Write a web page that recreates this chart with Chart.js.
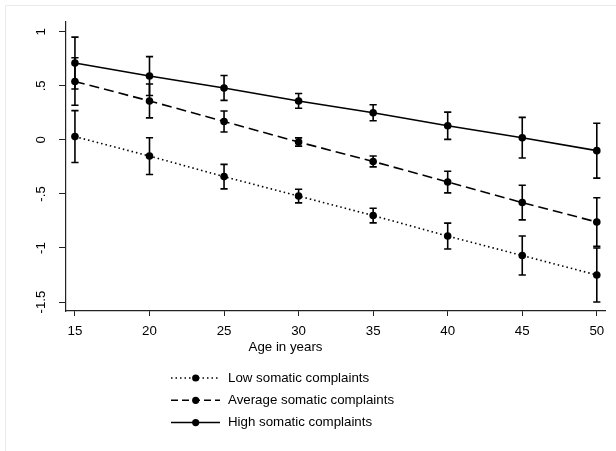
<!DOCTYPE html>
<html lang="en">
  <head>
    <meta charset="UTF-8" />
    <script src="https://cdn.jsdelivr.net/npm/chart.js@4.4.0/dist/chart.umd.min.js"></script>
    <title>Somatic complaints by age</title>
    <style>
      body {
        margin: 0;
        padding: 0;
        background: #fff;
      }
    </style>
  </head>
  <body>
    <canvas id="chart" width="616" height="451"></canvas>
    <script>
      const ages = [15, 20, 25, 30, 35, 40, 45, 50]
      const seriesNames = ['Low somatic complaints', 'Average somatic complaints', 'High somatic complaints']
      const lowValues = [0.03, -0.15, -0.34, -0.52, -0.7, -0.89, -1.07, -1.25]
      const lowErrors = [0.24, 0.17, 0.113, 0.063, 0.068, 0.12, 0.18, 0.25]
      const avgValues = [0.54, 0.36, 0.17, -0.02, -0.2, -0.39, -0.58, -0.76]
      const avgErrors = [0.22, 0.157, 0.097, 0.038, 0.05, 0.1, 0.16, 0.225]
      const highValues = [0.71, 0.59, 0.48, 0.36, 0.25, 0.13, 0.02, -0.1]
      const highErrors = [0.24, 0.18, 0.115, 0.068, 0.074, 0.126, 0.188, 0.254]
      const xTicks = [15, 20, 25, 30, 35, 40, 45, 50]
      const yTicks = [1, 0.5, 0, -0.5, -1, -1.5]
      const xTitle = 'Age in years'

      const FONT = '"Liberation Sans", Arial, sans-serif'
      const dashes = [[1.5, 3], [10, 5], []]
      const values = [lowValues, avgValues, highValues]
      const errors = [lowErrors, avgErrors, highErrors]

      const yLabel = (v) => {
        if (v === 0) return '0'
        return String(v).replace('0.', '.')
      }

      const errorBars = {
        id: 'errorBars',
        afterDatasetsDraw(chart) {
          const { ctx } = chart
          const x = chart.scales.x
          const y = chart.scales.y
          ctx.save()
          ctx.strokeStyle = '#000'
          ctx.lineWidth = 1.6
          values.forEach((vals, s) => {
            vals.forEach((v, i) => {
              const px = x.getPixelForValue(ages[i])
              const top = y.getPixelForValue(v + errors[s][i])
              const bot = y.getPixelForValue(v - errors[s][i])
              ctx.beginPath()
              ctx.moveTo(px, top)
              ctx.lineTo(px, bot)
              ctx.moveTo(px - 3.6, top)
              ctx.lineTo(px + 3.6, top)
              ctx.moveTo(px - 3.6, bot)
              ctx.lineTo(px + 3.6, bot)
              ctx.stroke()
            })
          })
          ctx.restore()
        },
      }

      const decorations = {
        id: 'decorations',
        afterDraw(chart) {
          const { ctx } = chart
          const y = chart.scales.y
          ctx.save()
          // faint outer frame
          ctx.strokeStyle = '#e6ecec'
          ctx.lineWidth = 1
          ctx.beginPath()
          ctx.moveTo(5.5, 451)
          ctx.lineTo(5.5, 5.5)
          ctx.lineTo(616, 5.5)
          ctx.stroke()

          // rotated y tick labels
          ctx.fillStyle = '#000'
          ctx.font = '13.3px ' + FONT
          ctx.textAlign = 'center'
          ctx.textBaseline = 'alphabetic'
          yTicks.forEach((t) => {
            const py = y.getPixelForValue(t)
            ctx.save()
            ctx.translate(45, py)
            ctx.rotate(-Math.PI / 2)
            ctx.fillText(yLabel(t), 0, 0)
            ctx.restore()
          })

          // x axis title
          ctx.textBaseline = 'middle'
          ctx.fillText(xTitle, 285.5, 347)

          // legend
          ctx.textAlign = 'left'
          seriesNames.forEach((name, i) => {
            const ly = 378 + i * 22.3
            ctx.strokeStyle = '#000'
            ctx.lineWidth = 1.5
            ctx.setLineDash(i === 1 ? [7, 4] : dashes[i])
            ctx.beginPath()
            ctx.moveTo(171, ly)
            ctx.lineTo(220, ly)
            ctx.stroke()
            ctx.setLineDash([])
            ctx.beginPath()
            ctx.arc(195.7, ly, 3.6, 0, Math.PI * 2)
            ctx.fill()
            ctx.fillText(name, 228, ly)
          })
          ctx.restore()
        },
      }

      const chart = new Chart(document.getElementById('chart').getContext('2d'), {
        type: 'line',
        data: {
          datasets: values.map((vals, s) => ({
            label: seriesNames[s],
            data: vals.map((v, i) => ({ x: ages[i], y: v })),
            borderColor: '#000',
            borderWidth: 1.6,
            borderDash: dashes[s],
            backgroundColor: '#000',
            pointRadius: 3.8,
            pointBorderWidth: 0,
            pointBackgroundColor: '#000',
            fill: false,
            tension: 0,
          })),
        },
        options: {
          responsive: false,
          animation: false,
          layout: {
            padding: { top: 22, right: 11, left: 0, bottom: 0 },
          },
          plugins: {
            legend: { display: false },
            tooltip: { enabled: false },
          },
          scales: {
            x: {
              type: 'linear',
              min: 14.4,
              max: 50.55,
              afterBuildTicks: (scale) => {
                scale.ticks = xTicks.map((v) => ({ value: v }))
              },
              afterFit: (scale) => {
                scale.height = 140
              },
              grid: {
                drawOnChartArea: false,
                tickLength: 5,
                color: '#222',
                tickColor: '#222',
              },
              border: { display: true, color: '#222', width: 1.2 },
              ticks: {
                color: '#000',
                padding: 7,
                maxRotation: 0,
                font: { family: FONT, size: 13.3 },
              },
            },
            y: {
              type: 'linear',
              min: -1.583,
              max: 1.09,
              afterBuildTicks: (scale) => {
                scale.ticks = yTicks.map((v) => ({ value: v }))
              },
              afterFit: (scale) => {
                scale.width = 66
              },
              grid: {
                drawOnChartArea: false,
                tickLength: 7,
                color: '#222',
                tickColor: '#222',
              },
              border: { display: true, color: '#222', width: 1.2 },
              ticks: { display: false },
            },
          },
        },
        plugins: [errorBars, decorations],
      })
    </script>
  </body>
</html>
